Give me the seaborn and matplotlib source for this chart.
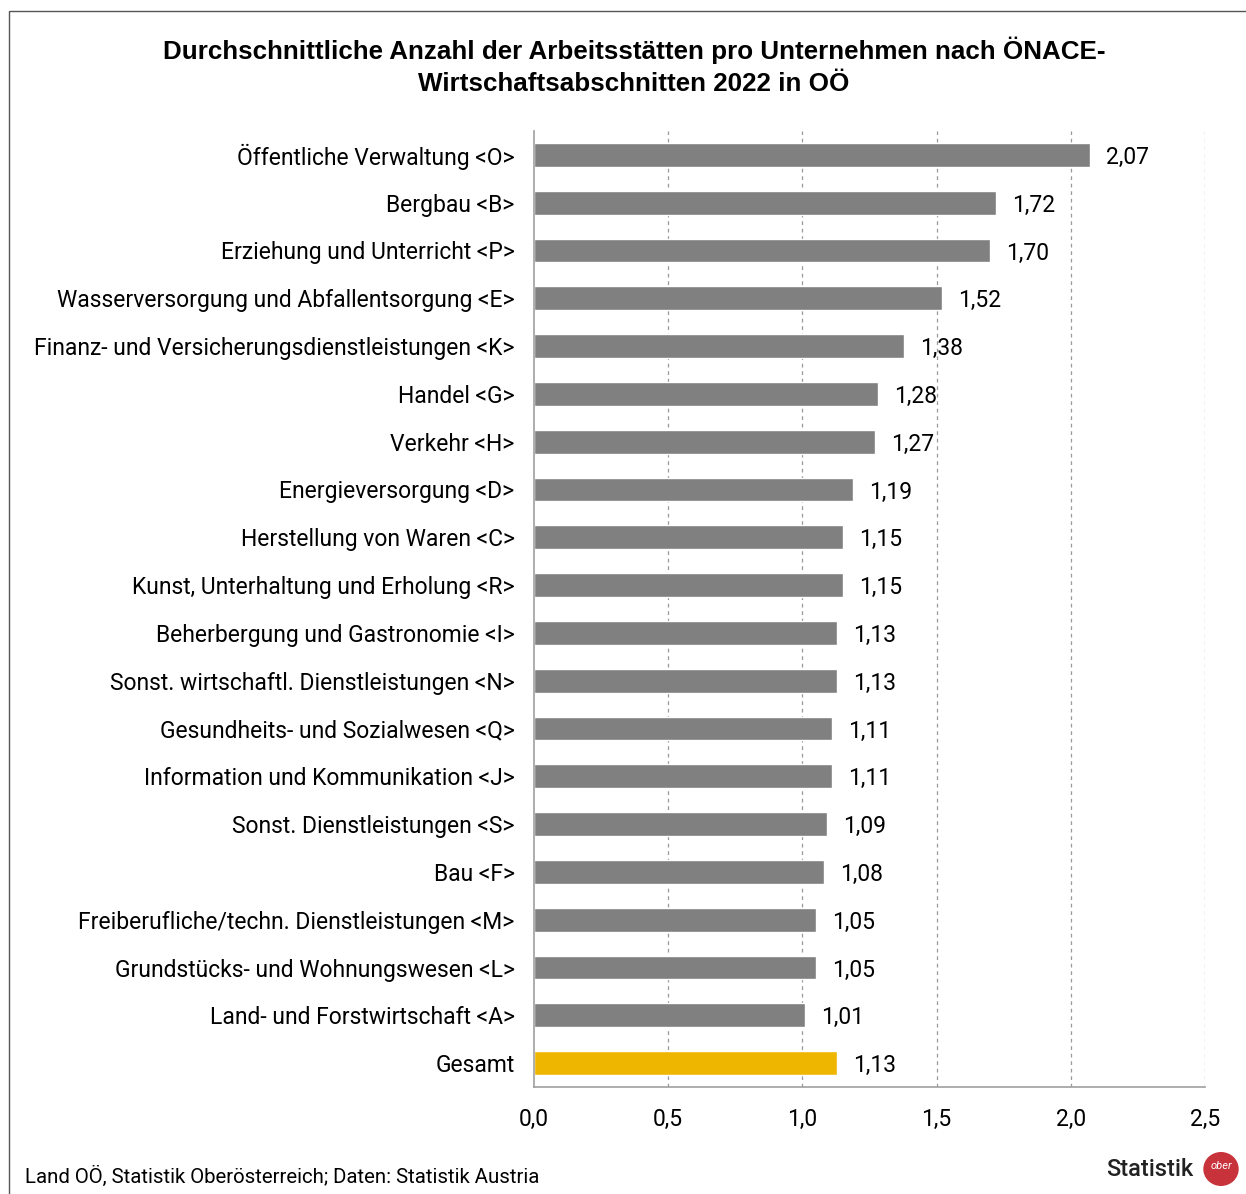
import numpy as np
import pandas as pd
import matplotlib
matplotlib.use("Agg")
import matplotlib.pyplot as plt
import matplotlib.ticker as ticker
from matplotlib.patches import Rectangle, Circle
import seaborn as sns

sns.set_theme(style="white")
plt.rcParams['font.family'] = ['Roboto', 'DejaVu Sans']
plt.rcParams['text.color'] = 'black'

categories = [
    "Öffentliche Verwaltung <O>",
    "Bergbau <B>",
    "Erziehung und Unterricht <P>",
    "Wasserversorgung und Abfallentsorgung <E>",
    "Finanz- und Versicherungsdienstleistungen <K>",
    "Handel <G>",
    "Verkehr <H>",
    "Energieversorgung <D>",
    "Herstellung von Waren <C>",
    "Kunst, Unterhaltung und Erholung <R>",
    "Beherbergung und Gastronomie <I>",
    "Sonst. wirtschaftl. Dienstleistungen <N>",
    "Gesundheits- und Sozialwesen <Q>",
    "Information und Kommunikation <J>",
    "Sonst. Dienstleistungen <S>",
    "Bau <F>",
    "Freiberufliche/techn. Dienstleistungen <M>",
    "Grundstücks- und Wohnungswesen <L>",
    "Land- und Forstwirtschaft <A>",
    "Gesamt",
]
values = [2.07, 1.72, 1.70, 1.52, 1.38, 1.28, 1.27, 1.19, 1.15, 1.15,
          1.13, 1.13, 1.11, 1.11, 1.09, 1.08, 1.05, 1.05, 1.01, 1.13]
xticks = [0.0, 0.5, 1.0, 1.5, 2.0, 2.5]

GRAY = '#808080'
GOLD = '#EFB600'

df = pd.DataFrame({'kategorie': categories, 'wert': values})
palette = [GOLD if c == 'Gesamt' else GRAY for c in categories]

fig = plt.figure(figsize=(12.46, 11.94), dpi=100)
ax = fig.add_axes([0.4286, 0.0896, 0.9671 - 0.4286, 0.8903 - 0.0896])

sns.barplot(data=df, x='wert', y='kategorie', hue='kategorie', palette=palette,
            legend=False, width=0.5, ax=ax, saturation=1)

ax.set_xlim(0, 2.5)
ax.set_ylim(len(categories) - 0.5, -0.5)
ax.set_xticks(xticks)
ax.xaxis.set_major_formatter(ticker.FuncFormatter(lambda v, p: f"{v:.1f}".replace('.', ',')))
ax.set_xlabel('')
ax.set_ylabel('')

for v in xticks[1:]:
    ax.axvline(v, color='#999999', lw=0.9, ls=(0, (3, 3)), zorder=0)

for spine in ['top', 'right']:
    ax.spines[spine].set_visible(False)
for spine in ['left', 'bottom']:
    ax.spines[spine].set_color('#a0a0a0')
    ax.spines[spine].set_linewidth(1.2)

ax.tick_params(axis='x', which='major', direction='out', length=6, color='#a0a0a0',
               width=1.2, labelsize=16.5, pad=9, colors='#a0a0a0', labelcolor='black')
ax.tick_params(axis='y', which='major', length=0, labelsize=16.5, pad=14, labelcolor='black')
ax.yaxis.set_minor_locator(ticker.FixedLocator(np.arange(-0.5, len(categories), 1.0)))
ax.tick_params(axis='y', which='minor', direction='out', length=6, color='#a0a0a0', width=1.2)

for i, v in enumerate(values):
    ax.text(v + 0.06, i, f"{v:.2f}".replace('.', ','), va='center_baseline', ha='left',
            fontsize=16.5)

fig.text(634 / 1246, 1 - 66 / 1194, "Durchschnittliche Anzahl der Arbeitsstätten pro Unternehmen nach ÖNACE-\n"
         "Wirtschaftsabschnitten 2022 in OÖ", ha='center', va='center', fontsize=18.7,
         fontweight='bold', family=['Liberation Sans', 'DejaVu Sans'], linespacing=1.4,
         color='black')

fig.text(25 / 1246, 1 - 1176 / 1194, "Land OÖ, Statistik Oberösterreich; Daten: Statistik Austria",
         ha='left', va='center', fontsize=14.7)
fig.text(1193 / 1246, 1 - 1169 / 1194, "Statistik", ha='right', va='center', fontsize=17,
         fontweight='medium', color='#222222')
logo = Circle((1221 / 1246, 1 - 1169 / 1194), 17 / 1246, transform=fig.transFigure,
              color='#c8323a', zorder=5)
fig.patches.append(logo)
fig.text(1221 / 1246, 1 - 1166 / 1194, "ober", ha='center', va='center', fontsize=8,
         color='white', style='italic', zorder=6)

border = Rectangle((9 / 1246, -0.01), 1.02, 1 - 11 / 1194 + 0.01, transform=fig.transFigure,
                   fill=False, edgecolor='#555555', lw=1.0)
fig.patches.append(border)

fig.savefig('out.png', dpi=100)
